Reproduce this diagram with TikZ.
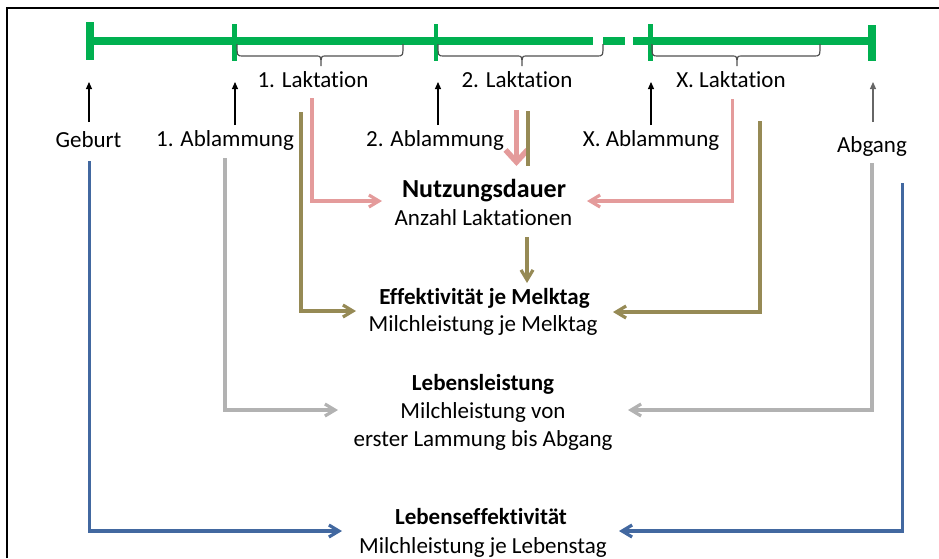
\documentclass[tikz,border=0pt]{standalone}
\usepackage{fontspec}
\setmainfont{Carlito}[Ligatures=NoCommon]
\usetikzlibrary{arrows.meta}
\definecolor{grn}{RGB}{0,176,80}
\definecolor{pnk}{RGB}{228,155,155}
\definecolor{olv}{RGB}{150,138,85}
\definecolor{gry}{RGB}{178,178,178}
\definecolor{blu}{RGB}{66,104,160}
\definecolor{brc}{RGB}{80,80,80}
\begin{document}
\begin{tikzpicture}[x=1pt,y=-1pt,
  lbl/.style={inner sep=0pt,anchor=base,font=\fontsize{23}{28}\selectfont},
  hd/.style={lbl,font=\fontsize{23}{28}\selectfont\bfseries},
  up/.style={-{Triangle[length=7pt,width=6pt]},line width=1.1pt},
  con/.style={line width=3.2pt,-{Straight Barb[length=10pt,width=12pt]}},
  plain/.style={line width=3.2pt},
  brace/.style={brc,line width=1.2pt}]
\useasboundingbox (0,0) rectangle (939,558);
% frame
\draw[line width=2.4pt] (7,558) -- (7,8) -- (939,8);
% timeline
\draw[grn,line width=8pt] (89,41) -- (593,41);
\draw[grn,line width=8pt] (603,41) -- (625,41);
\draw[grn,line width=8pt] (633,41) -- (651,41) -- (872,41);
\draw[grn,line width=8pt] (89.5,22) -- (89.5,60);
\draw[grn,line width=8pt] (871.5,25) -- (871.5,61);
\draw[grn,line width=4.5pt] (234.5,24) -- (234.5,61);
\draw[grn,line width=4.5pt] (436,24) -- (436,61);
\draw[grn,line width=4.5pt] (650.5,24) -- (650.5,61);
% braces
\draw[brace] (237,44) .. controls (237,56) .. (243,56) -- (316,56) .. controls (321,56) .. (321,66) .. controls (321,56) .. (326,56) -- (397,56) .. controls (403,56) .. (403,44);
\draw[brace] (438,44) .. controls (438,56) .. (444,56) -- (517,56) .. controls (522,56) .. (522,66) .. controls (522,56) .. (527,56) -- (597,56) .. controls (603,56) .. (603,44);
\draw[brace] (652,44) .. controls (652,56) .. (658,56) -- (732,56) .. controls (737,56) .. (737,66) .. controls (737,56) .. (742,56) -- (814,56) .. controls (820,56) .. (820,44);
% lactation labels
\node[lbl] (l1) at (313,87) {1. Laktation};
\node[lbl] (l2) at (517,87) {2. Laktation};
\node[lbl] (lx) at (731,87) {X. Laktation};
% event labels
\node[lbl] (geb) at (88.5,147.5) {Geburt};
\node[lbl] (ab1) at (225,146) {1. Ablammung};
\node[lbl] (ab2) at (435,146) {2. Ablammung};
\node[lbl] (abx) at (651,146) {X. Ablammung};
\node[lbl] (abg) at (872,152) {Abgang};
% event arrows
\coordinate (tg) at (89,82);
\coordinate (t1) at (235,82);
\coordinate (t2) at (438,82);
\coordinate (tx) at (651,82);
\coordinate (ta) at (873,82);
\draw[up] (89,122) -- (tg);
\draw[up] (235,125) -- (t1);
\draw[up] (438,125) -- (t2);
\draw[up] (651,125) -- (tx);
\draw[up,black!60] (873,122) -- (ta);
% central texts
\node[hd,font=\fontsize{26}{30}\selectfont\bfseries] (nd) at (484,197) {Nutzungsdauer};
\node[lbl] (nds) at (483.5,225) {Anzahl Laktationen};
\node[hd] (ef) at (484.5,304) {Effektivität je Melktag};
\node[lbl] (efs) at (483,331.5) {Milchleistung je Melktag};
\node[hd] (ll) at (483,390) {Lebensleistung};
\node[lbl] (lls) at (483,418) {Milchleistung von};
\node[lbl] (llt) at (483,446.5) {erster Lammung bis Abgang};
\node[hd] (le) at (481,524) {Lebenseffektivität};
\node[lbl] (les) at (483,553) {Milchleistung je Lebenstag};
% pink
\coordinate (p1) at (312,98);
\coordinate (p1e) at (382,201);
\coordinate (p2) at (732.5,99);
\coordinate (p2e) at (587,201);
\draw[con,pnk] (p1) |- (p1e);
\draw[con,pnk] (p2) |- (p2e);
\coordinate (pm) at (516.5,110);
\coordinate (pme) at (516.5,166);
\draw[pnk,line width=5.5pt,-{Straight Barb[length=12pt,width=22pt]}] (pm) -- (pme);
% olive
\coordinate (o1) at (301,112);
\coordinate (o1e) at (356,311);
\coordinate (o2) at (760,121);
\coordinate (o2e) at (613,312);
\draw[con,olv] (o1) |- (o1e);
\draw[con,olv] (o2) |- (o2e);
\coordinate (om) at (528,111);
\coordinate (ome) at (528,166);
\draw[plain,olv] (om) -- (ome);
\coordinate (od) at (527,237);
\coordinate (ode) at (527,283);
\draw[con,olv] (od) -- (ode);
% gray
\coordinate (g1) at (225,158);
\coordinate (g1e) at (338,410);
\coordinate (g2) at (872,163);
\coordinate (g2e) at (628,410);
\draw[con,gry] (g1) |- (g1e);
\draw[con,gry] (g2) |- (g2e);
% blue
\coordinate (b1) at (89.5,161);
\coordinate (b1e) at (342,531);
\coordinate (b2) at (902.5,183);
\coordinate (b2e) at (619,531);
\draw[con,blu] (b1) |- (b1e);
\draw[con,blu] (b2) |- (b2e);
\end{tikzpicture}
\end{document}
